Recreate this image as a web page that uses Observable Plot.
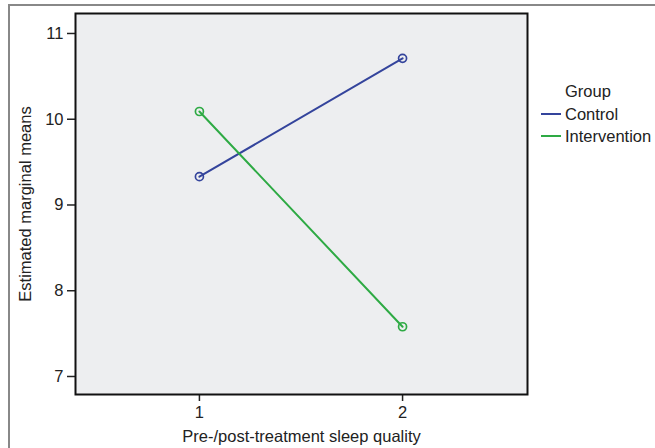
<!DOCTYPE html>
<html>
<head>
<meta charset="utf-8">
<script src="https://cdn.jsdelivr.net/npm/d3@7"></script>
<script src="https://cdn.jsdelivr.net/npm/@observablehq/plot@0.6"></script>
<style>
  html, body { margin: 0; padding: 0; background: #fff; }
  #wrap { position: relative; width: 655px; height: 448px; overflow: hidden; font-family: "Liberation Sans", Arial, sans-serif; }
  #border { position: absolute; left: 8px; top: 4px; width: 660px; height: 460px; border-left: 2px solid #888; border-top: 2px solid #888; box-sizing: border-box; }
  #legend { position: absolute; left: 541px; top: 80px; font-size: 16.5px; color: #222; line-height: 22.5px; }
  #legend .row { display: flex; align-items: center; white-space: nowrap; }
  #legend svg { margin-right: 4px; }
</style>
</head>
<body>
<div id="wrap"><div id="border"></div><div id="chart"></div><div id="legend"></div></div>
<script>
const groups = ["Control", "Intervention"];
const colors = ["#34449c", "#2eaa44"];
const times = [1, 2];
const controlMeans = [9.33, 10.71];
const interventionMeans = [10.09, 7.58];
const yTicks = [7, 8, 9, 10, 11];
const xTicks = [1, 2];

const data = [];
times.forEach((t, i) => {
  data.push({group: groups[0], time: t, mean: controlMeans[i]});
  data.push({group: groups[1], time: t, mean: interventionMeans[i]});
});

const chart = Plot.plot({
  width: 655,
  height: 448,
  marginLeft: 75,
  marginRight: 128,
  marginTop: 13,
  marginBottom: 54,
  style: {fontFamily: "'Liberation Sans', Arial, sans-serif", fontSize: "17px", color: "#222", background: "transparent", overflow: "visible"},
  x: {domain: [0.39, 2.615]},
  y: {domain: [6.79, 11.233]},
  color: {domain: groups, range: colors},
  marks: [
    Plot.frame({fill: "#edeef0"}),
    Plot.axisY(yTicks, {anchor: "left", tickSize: 8, tickPadding: 4, tickFormat: "d", fontSize: 16.5, stroke: "#222", strokeWidth: 1.5, label: "Estimated marginal means", labelAnchor: "center", labelOffset: 56, labelArrow: "none"}),
    Plot.axisX(xTicks, {anchor: "bottom", tickSize: 7, tickPadding: 5, tickFormat: "d", fontSize: 16.5, stroke: "#222", strokeWidth: 1.5, label: "Pre-/post-treatment sleep quality", labelAnchor: "center", labelOffset: 47, labelArrow: "none"}),
    Plot.line(data, {x: "time", y: "mean", stroke: "group", z: "group", strokeWidth: 2}),
    Plot.dot(data, {x: "time", y: "mean", stroke: "group", r: 4, strokeWidth: 1.7, fill: "none"}),
    Plot.frame({stroke: "#111", strokeWidth: 2})
  ]
});
document.getElementById("chart").appendChild(chart);

const legend = document.getElementById("legend");
const title = document.createElement("div");
title.className = "row";
title.style.paddingLeft = "24px";
title.textContent = "Group";
legend.appendChild(title);
groups.forEach((g, i) => {
  const row = document.createElement("div");
  row.className = "row";
  row.innerHTML = `<svg width="20" height="4"><line x1="0" x2="20" y1="2" y2="2" stroke="${colors[i]}" stroke-width="2"/></svg><span>${g}</span>`;
  legend.appendChild(row);
});
</script>
</body>
</html>
